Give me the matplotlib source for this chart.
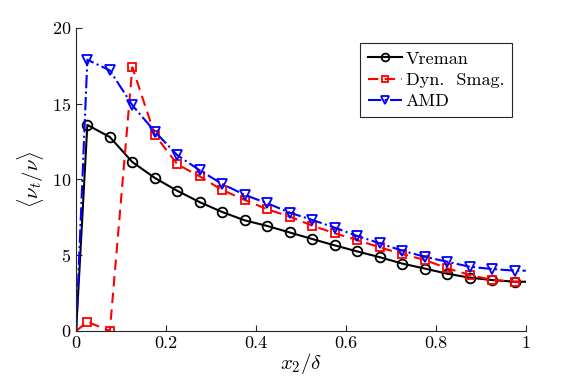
import numpy as np
import matplotlib
matplotlib.use("Agg")
from matplotlib import pyplot as plt

# 数据
x = [0.0, 0.025, 0.075, 0.125, 0.175, 0.225, 0.275, 0.325, 0.375, 0.425, 0.475,
     0.525, 0.575, 0.625, 0.675, 0.725, 0.775, 0.825, 0.875, 0.925, 0.975, 1.0]
vreman = [0.0, 13.6, 12.8, 11.15, 10.1, 9.25, 8.5, 7.85, 7.3, 6.93, 6.5,
          6.07, 5.65, 5.25, 4.87, 4.45, 4.12, 3.78, 3.52, 3.36, 3.25, 3.25]
dynsmag = [0.0, 0.6, 0.0, 17.4, 12.95, 11.0, 10.2, 9.3, 8.65, 8.03, 7.55,
           6.95, 6.45, 6.0, 5.52, 5.08, 4.69, 4.14, 3.7, 3.37, 3.25, 3.25]
amd = [0.0, 17.9, 17.2, 14.9, 13.16, 11.6, 10.6, 9.7, 8.98, 8.43, 7.81,
       7.33, 6.82, 6.27, 5.79, 5.3, 4.9, 4.57, 4.24, 4.09, 3.98, 3.98]

plt.rcParams['font.family'] = 'serif'
plt.rcParams['font.serif'] = ['cmr10']
plt.rcParams['mathtext.fontset'] = 'cm'
plt.rcParams['axes.formatter.use_mathtext'] = True
plt.rcParams['font.size'] = 12

fig = plt.figure(figsize=(5.81, 3.88), dpi=100)
ax = fig.add_axes([0.131, 0.147, 0.774, 0.781])

mk = list(range(1, 21))
ax.plot(x, vreman, '-', color='k', lw=1.5, marker='o', ms=7, mfc='none',
        mew=1.3, markevery=mk, label='Vreman')
ax.plot(x, dynsmag, color='red', lw=1.5, dashes=(5, 3), marker='s', ms=5.5,
        mfc='none', mew=1.3, markevery=mk, label='Dyn.  Smag.')
ax.plot(x, amd, '-.', color='blue', lw=1.5, marker='v', ms=7, mfc='none',
        mew=1.3, markevery=mk, label='AMD')

ax.set_xlim(0, 1)
ax.set_ylim(0, 20)
ax.set_xticks([0, 0.2, 0.4, 0.6, 0.8, 1])
ax.set_xticklabels(['0', '0.2', '0.4', '0.6', '0.8', '1'])
ax.set_yticks([0, 5, 10, 15, 20])
ax.tick_params(direction='in', color='#262626', labelsize=13, length=4)
for s in ['top', 'right']:
    ax.spines[s].set_visible(False)
for s in ['left', 'bottom']:
    ax.spines[s].set_color('#262626')
    ax.spines[s].set_linewidth(0.8)

ax.set_xlabel(r'$x_2/\delta$', fontsize=15, labelpad=0)
ax.set_ylabel(r'$\langle \nu_t/\nu \rangle$', fontsize=15, labelpad=4)

leg = ax.legend(loc='upper right', bbox_to_anchor=(0.99, 0.98), fontsize=13,
                fancybox=False, edgecolor='#262626', framealpha=1,
                handlelength=1.9, handletextpad=0.2, borderpad=0.45,
                labelspacing=0.3, markerscale=0.8)
leg.get_frame().set_linewidth(0.8)

plt.savefig("out.png", dpi=100)
